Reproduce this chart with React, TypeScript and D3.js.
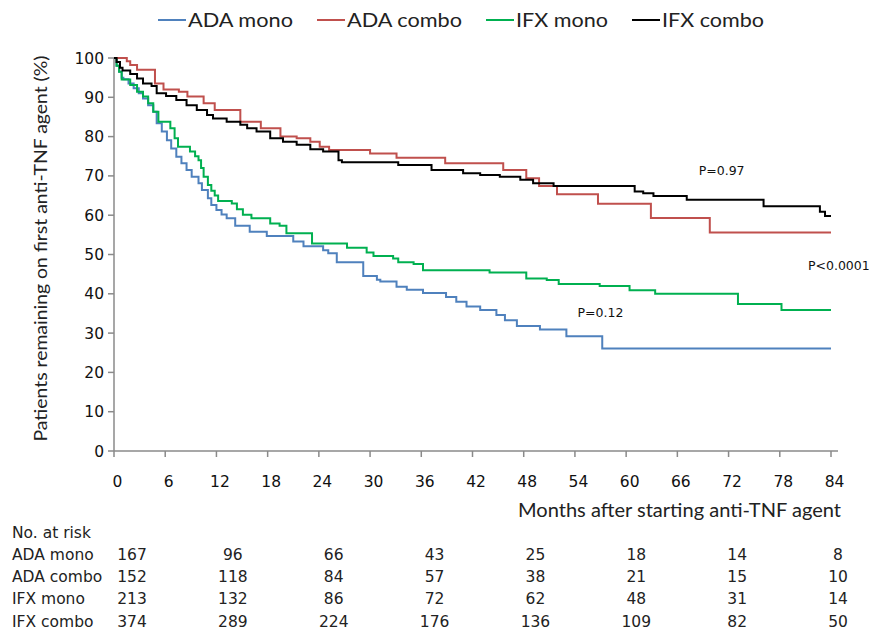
import React from 'react';
import * as d3 from 'd3';

// months shown on the x axis and in the risk table
const monthTicks = [0, 6, 12, 18, 24, 30, 36, 42, 48, 54, 60, 66, 72, 78, 84];
const riskMonths = [0, 12, 24, 36, 48, 60, 72, 84];
const pctTicks = [0, 10, 20, 30, 40, 50, 60, 70, 80, 90, 100];

const groups = ['ADA mono', 'ADA combo', 'IFX mono', 'IFX combo'];
const colors = ['#4F81BD', '#C0504D', '#00B050', '#000000'];

// number at risk, one row per group
const riskAdaMono = [167, 96, 66, 43, 25, 18, 14, 8];
const riskAdaCombo = [152, 118, 84, 57, 38, 21, 15, 10];
const riskIfxMono = [213, 132, 86, 72, 62, 48, 31, 14];
const riskIfxCombo = [374, 289, 224, 176, 136, 109, 82, 50];

// Kaplan-Meier steps: [month, % remaining from that month on]
const adaMono = [
  [0, 100], [0.3, 98], [0.6, 96.5], [0.9, 95], [1.1, 94.6], [1.7, 93.5], [2.3, 92.3], [2.9, 91.0],
  [3.4, 89.7], [4.0, 88.0], [4.6, 86.3], [5.0, 83.4], [5.6, 81.3], [6.2, 79.1], [6.7, 77.0],
  [7.3, 74.9], [7.9, 73.2], [8.5, 71.5], [9.1, 69.8], [9.9, 68.1], [10.3, 66.4], [11.0, 64.3],
  [11.4, 62.6], [12.0, 61.3], [12.6, 60.2], [13.2, 59.2], [14.2, 57.3], [15.9, 55.8], [17.9, 54.7],
  [21.0, 53.3], [22.2, 52.1], [24.5, 51.1], [25.1, 50.3], [26.1, 48.0], [29.2, 44.5], [30.8, 43.6],
  [31.2, 43.1], [33.1, 41.8], [34.3, 41.0], [36.2, 40.2], [38.9, 39.2], [40.1, 38.0], [41.3, 36.8],
  [42.9, 35.9], [44.8, 34.6], [45.8, 33.3], [47.2, 31.8], [49.9, 30.9], [53.0, 29.2], [57.2, 26.1],
];

const adaCombo = [
  [0, 100], [1.5, 99.2], [1.9, 98.2], [2.7, 97.0], [4.8, 93.5], [5.8, 92.0], [7.6, 91.4],
  [8.6, 90.2], [10.5, 88.5], [11.8, 86.8], [14.8, 83.8], [17.2, 82.1], [19.5, 80.0], [21.4, 79.6],
  [23.0, 78.7], [24.1, 77.4], [25.2, 76.6], [30.0, 75.7], [33.1, 74.6], [38.8, 73.2], [45.6, 71.5],
  [48.3, 69.4], [49.8, 67.4], [51.9, 65.3], [56.7, 62.9], [62.9, 59.3], [69.8, 55.6],
];

const ifxMono = [
  [0, 100], [0.3, 98], [0.6, 96.5], [0.9, 94.5], [1.9, 93.1], [2.7, 91.4], [3.4, 90.2],
  [4.0, 88.5], [4.6, 86.3], [5.2, 83.8], [6.6, 82.1], [7.1, 79.6], [7.5, 77.4], [8.9, 76.2],
  [9.5, 75.0], [9.9, 74.0], [10.2, 72.0], [10.5, 69.8], [11.0, 67.7], [11.4, 66.2], [11.8, 65.0],
  [12.2, 63.6], [13.8, 63.0], [14.4, 61.5], [15.1, 60.1], [16.1, 59.2], [18.3, 57.9], [19.4, 57.3],
  [20.2, 55.4], [23.2, 52.8], [27.3, 51.7], [29.6, 50.5], [30.4, 49.6], [32.7, 49.0], [33.3, 48.0],
  [35.1, 47.6], [36.2, 46.0], [44.0, 45.4], [48.3, 43.9], [50.7, 43.5], [52.1, 42.5], [56.9, 42.0],
  [60.4, 40.9], [63.4, 40.0], [73.1, 37.4], [78.2, 35.9],
];

const ifxCombo = [
  [0, 100], [0.3, 99], [0.7, 97.5], [1.0, 96.8], [1.9, 95.9], [2.7, 94.8], [3.4, 93.5],
  [4.4, 92.9], [5.0, 91.0], [6.1, 90.3], [7.3, 89.3], [8.5, 88.0], [9.7, 86.8], [10.9, 85.5],
  [11.6, 84.6], [13.2, 83.8], [14.8, 83.0], [15.6, 82.1], [16.7, 81.3], [18.3, 79.6], [19.8, 78.7],
  [21.4, 77.9], [23.0, 76.8], [24.5, 76.2], [26.3, 74.0], [26.7, 73.5], [33.3, 72.8], [37.2, 71.5],
  [40.9, 70.7], [42.9, 70.2], [45.2, 69.8], [47.6, 69.0], [49.1, 68.1], [51.5, 67.4], [61.0, 66.0],
  [62.0, 65.6], [63.2, 64.9], [67.1, 63.9], [76.1, 62.3], [82.7, 60.9], [83.3, 59.8],
];

const pLabels = [
  { text: 'P=0.97', month: 68.5, pct: 70.2 },
  { text: 'P<0.0001', month: 81.3, pct: 46.0 },
  { text: 'P=0.12', month: 54.3, pct: 34.2 },
];

const W = 869;
const H = 636;
const numFont = '"DejaVu Sans", Verdana, sans-serif';
const labelFont = 'Lato, "Open Sans", sans-serif';

export default function App() {
  const x = d3.scaleLinear().domain([0, 84]).range([114, 831]);
  const y = d3.scaleLinear().domain([0, 100]).range([451, 58]);
  const riskX = d3.scalePoint<number>().domain(riskMonths).range([132, 838]);

  const line = d3
    .line<number[]>()
    .x((d) => x(d[0]))
    .y((d) => y(d[1]))
    .curve(d3.curveStepAfter);

  const series = [adaMono, adaCombo, ifxMono, ifxCombo];
  const riskRows = [riskAdaMono, riskAdaCombo, riskIfxMono, riskIfxCombo];
  const drawOrder = [0, 2, 1, 3];

  // legend layout
  const legendWidths = [105, 115, 92, 102];
  let lx = 158;
  const legendItems = groups.map((g, i) => {
    const item = { g, i, x: lx };
    lx += 30 + legendWidths[i] + 24;
    return item;
  });

  return (
    <svg
      width={W}
      height={H}
      style={{ position: 'absolute', left: 0, top: 0, background: '#fff' }}
    >
      {/* legend */}
      {legendItems.map((it) => (
        <g key={it.g}>
          <line x1={it.x} x2={it.x + 28} y1={20} y2={20} stroke={colors[it.i]} strokeWidth={2} />
          <text
            x={it.x + 30}
            y={27}
            fontFamily={labelFont}
            fontSize={19.5}
            fill="#222"
            textLength={legendWidths[it.i]}
            lengthAdjust="spacingAndGlyphs"
          >
            {it.g}
          </text>
        </g>
      ))}

      {/* y axis */}
      <line x1={114} x2={114} y1={y(100)} y2={y(0)} stroke="#8a8a8a" strokeWidth={1.5} />
      {pctTicks.map((t) => (
        <g key={'y' + t}>
          <line x1={108} x2={114} y1={y(t)} y2={y(t)} stroke="#8a8a8a" strokeWidth={1.5} />
          <text
            x={104}
            y={y(t)}
            dy="0.36em"
            textAnchor="end"
            fontFamily={numFont}
            fontSize={15.5}
            fill="#111"
          >
            {t}
          </text>
        </g>
      ))}
      <text
        transform={`translate(47,${(y(0) + y(100)) / 2 - 6}) rotate(-90)`}
        textAnchor="middle"
        fontFamily={labelFont}
        fontSize={17}
        fill="#222"
        textLength={386}
        lengthAdjust="spacingAndGlyphs"
      >
        Patients remaining on first anti-TNF agent (%)
      </text>

      {/* x axis */}
      <line x1={x(0)} x2={838} y1={y(0)} y2={y(0)} stroke="#8a8a8a" strokeWidth={1.5} />
      {monthTicks.map((m) => (
        <g key={'x' + m}>
          <line x1={x(m)} x2={x(m)} y1={y(0)} y2={y(0) + 6} stroke="#8a8a8a" strokeWidth={1.5} />
          <text
            x={x(m) + 3.5}
            y={487}
            textAnchor="middle"
            fontFamily={numFont}
            fontSize={15.5}
            fill="#111"
          >
            {m}
          </text>
        </g>
      ))}
      <text
        x={518}
        y={517}
        fontFamily={labelFont}
        fontSize={19.5}
        fill="#222"
        textLength={323}
        lengthAdjust="spacingAndGlyphs"
      >
        Months after starting anti-TNF agent
      </text>

      {/* survival curves */}
      {drawOrder.map((i) => {
        const s = series[i];
        const pts = [...s, [84, s[s.length - 1][1]]];
        return (
          <path
            key={groups[i]}
            d={line(pts) || ''}
            fill="none"
            stroke={colors[i]}
            strokeWidth={2}
          />
        );
      })}

      {/* p values */}
      {pLabels.map((p) => (
        <text
          key={p.text}
          x={x(p.month)}
          y={y(p.pct)}
          fontFamily={numFont}
          fontSize={12.5}
          fill="#111"
        >
          {p.text}
        </text>
      ))}

      {/* number at risk table */}
      <text x={12} y={538} fontFamily={numFont} fontSize={15.5} fill="#222">
        No. at risk
      </text>
      {groups.map((g, r) => {
        const by = [560, 582, 604, 627][r];
        return (
          <g key={'risk' + g}>
            <text x={12} y={by} fontFamily={numFont} fontSize={15.5} fill="#222">
              {g}
            </text>
            {riskRows[r].map((n, c) => (
              <text
                key={c}
                x={riskX(riskMonths[c])}
                y={by}
                textAnchor="middle"
                fontFamily={numFont}
                fontSize={15.5}
                fill="#222"
              >
                {n}
              </text>
            ))}
          </g>
        );
      })}
    </svg>
  );
}
